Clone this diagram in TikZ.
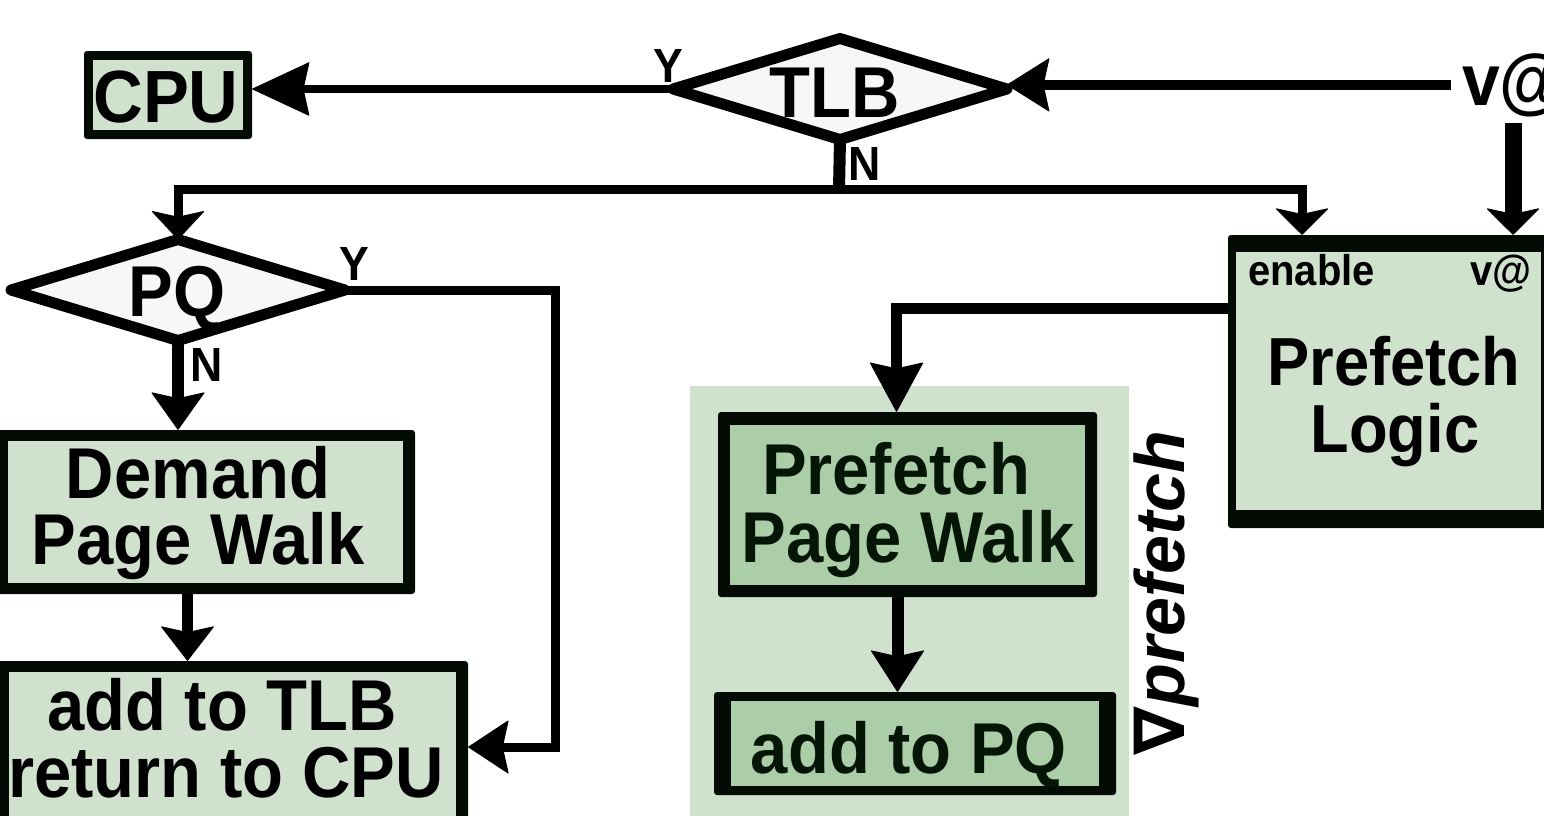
\documentclass[tikz,border=0pt]{standalone}
\usepackage{fontspec}
\usetikzlibrary{arrows.meta,shapes.geometric}
\newfontfamily\dgfont[FakeStretch=0.93]{Liberation Sans}
\newfontfamily\rotfont{Liberation Sans}
\newfontfamily\symfont{DejaVu Sans}
\definecolor{lightg}{HTML}{D0E2CE}
\definecolor{darkg}{HTML}{ABCDA8}
\definecolor{diag}{HTML}{F7F7F7}
\definecolor{edge}{HTML}{040A04}
\definecolor{ink}{HTML}{061606}
\tikzset{
  outerbox/.style={fill=edge, rounded corners=3pt, inner sep=0pt, draw=none},
  lightin/.style={fill=lightg, inner sep=0pt, draw=none},
  darkin/.style={fill=darkg, inner sep=0pt, draw=none},
  dec/.style={diamond, draw=black, fill=diag, line width=11pt, line join=round, inner sep=0pt, outer sep=0pt, minimum width=334pt, minimum height=101pt},
  txt/.style={inner sep=0pt, anchor=base, font=\dgfont\bfseries\fontsize{72pt}{80pt}\selectfont},
  lbl/.style={inner sep=0pt, anchor=base, font=\dgfont\bfseries\fontsize{48pt}{52pt}\selectfont},
  arr/.style={draw=black, line width=10pt, -{Stealth[length=#1,width=54pt,inset=6pt,line width=1pt,round]}},
  arr/.default=45pt
}
\begin{document}
\begin{tikzpicture}[x=1pt,y=-1pt]
\useasboundingbox (0,0) rectangle (1544,815);
\clip (0,0) rectangle (1544,815);

% prefetch area background
\node[fill=lightg, inner sep=0pt, minimum width=439pt, minimum height=444pt] (pfarea) at (909.5,608) {};

% CPU
\node[outerbox, minimum width=168pt, minimum height=88pt] (cpu) at (168,95) {};
\node[lightin, minimum width=150pt, minimum height=70pt] (cpuin) at (168,95) {};
\node[txt, font=\dgfont\bfseries\fontsize{74pt}{80pt}\selectfont] (cputxt) at (166,122) {CPU};

% TLB decision
\node[dec] (tlb) at (840,89) {};
\node[txt] (tlbtxt) at (835,117) {TLB};
\node[lbl] (tlby) at (668,82) {Y};
\node[lbl] (tlbn) at (865,180) {N};

% virtual address input
\node[txt, anchor=base west, font=\dgfont\bfseries\fontsize{73pt}{80pt}\selectfont] (va) at (1462,105) {v@};

% PQ decision
\node[dec] (pq) at (178,290) {};
\node[txt] (pqtxt) at (177,316) {PQ};
\node[lbl] (pqy) at (354,280) {Y};
\node[lbl] (pqn) at (207,381) {N};

% Demand page walk
\node[outerbox, minimum width=419pt, minimum height=164pt] (demand) at (205.5,512) {};
\node[lightin, minimum width=395pt, minimum height=142pt] (demandin) at (205.5,512) {};
\node[txt] (demand1) at (198,498) {Demand};
\node[txt] (demand2) at (198,564) {Page Walk};

% add to TLB
\node[outerbox, minimum width=471pt, minimum height=179pt] (addtlb) at (232.5,750.5) {};
\node[lightin, minimum width=447pt, minimum height=168pt] (addtlbin) at (232.5,756) {};
\node[txt] (addtlb1) at (222,730) {add to TLB};
\node[txt] (addtlb2) at (226,797) {return to CPU};

% Prefetch page walk
\node[outerbox, minimum width=379pt, minimum height=185pt] (ppw) at (907.5,504.5) {};
\node[darkin, minimum width=355pt, minimum height=160pt] (ppwin) at (907.5,505) {};
\node[txt, text=ink] (ppw1) at (896,494) {Prefetch};
\node[txt, text=ink] (ppw2) at (908,562) {Page Walk};

% add to PQ
\node[outerbox, minimum width=402pt, minimum height=103pt] (addpq) at (915,743.5) {};
\node[darkin, minimum width=368pt, minimum height=85pt] (addpqin) at (915,743.5) {};
\node[txt, text=ink] (addpqtxt) at (909,773) {add to PQ};

% Prefetch logic
\node[outerbox, minimum width=324pt, minimum height=293pt] (logic) at (1390,381.5) {};
\node[lightin, minimum width=305pt, minimum height=258pt] (logicin) at (1388.5,381) {};
\node[txt, anchor=base west, font=\dgfont\bfseries\fontsize{43pt}{48pt}\selectfont] (logicen) at (1248,285) {enable};
\node[txt, anchor=base east, font=\dgfont\bfseries\fontsize{43pt}{48pt}\selectfont] (logicva) at (1532,285) {v@};
\node[txt, font=\dgfont\bfseries\fontsize{68pt}{76pt}\selectfont] (logic1) at (1394,385) {Prefetch};
\node[txt, font=\dgfont\bfseries\fontsize{68pt}{76pt}\selectfont] (logic2) at (1395,452) {Logic};

% rotated label
\node[inner sep=0pt, anchor=base, rotate=90, font=\bfseries\itshape\fontsize{70pt}{76pt}\selectfont] (vpf) at (1184,593) {{\symfont ∇}{\rotfont prefetch}};

% connectors
\coordinate (split) at (839,189);
\coordinate (vdown) at (1513,123);
\coordinate (yc) at (555,747);

\draw[arr=58pt, line width=8pt] (tlb.west) -- (tlb.west -| cpu.east);
\draw[arr=43pt, line width=10pt] ([xshift=-11pt]va.west) -- (va.west -| tlb.east);
\draw[arr=27pt, line width=17pt] (vdown) -- (vdown |- logic.north);
\draw[line width=12pt] (tlb.south) -- (split);
\draw[arr=29pt, line width=9pt] (split) -| (pq.north);
\draw[arr=27pt, line width=9pt] (split) -| ([xshift=-88pt]logic.north);
\draw[arr=38pt, line width=12pt] (pq.south) -- (pq.south |- demand.north);
\draw[arr=41pt, line width=9pt] (pq.east) -| (yc) -- (yc -| addtlb.east);
\draw[arr=35pt, line width=11pt] ([xshift=-18pt]demand.south) -- ([xshift=-18pt]demand.south |- addtlb.north);
\draw[arr=50pt, line width=11pt] ([yshift=73pt]logic.west) -| ([xshift=-11pt]ppw.north);
\draw[arr=42pt, line width=12pt] ([xshift=-10pt]ppw.south) -- ([xshift=-10pt]ppw.south |- addpq.north);
\end{tikzpicture}
\end{document}
